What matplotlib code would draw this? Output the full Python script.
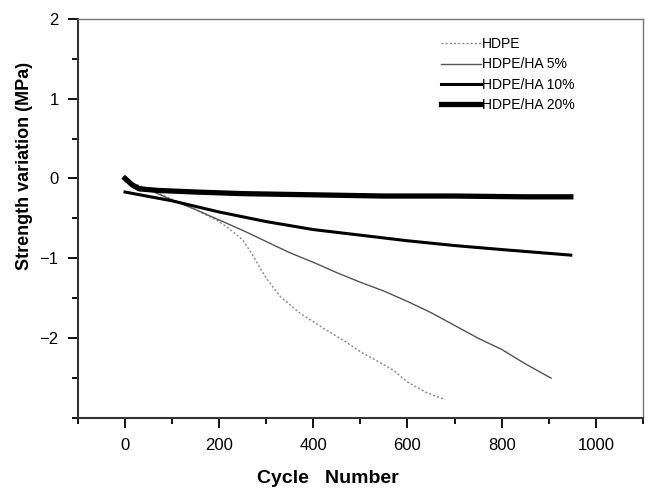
import matplotlib.pyplot as plt
from matplotlib.ticker import MultipleLocator

plt.rcParams['font.family'] = ['Liberation Sans', 'DejaVu Sans']

# cycle number vs strength variation (MPa)
hdpe_x = [0, 50, 100, 150, 200, 230, 250, 270, 300, 330, 370, 420, 470, 500, 540, 570, 600, 640, 680]
hdpe_y = [-0.02, -0.13, -0.26, -0.39, -0.54, -0.67, -0.77, -0.95, -1.25, -1.48, -1.68, -1.87, -2.05, -2.17, -2.3, -2.4, -2.55, -2.68, -2.77]

ha5_x = [0, 50, 100, 150, 200, 250, 300, 350, 400, 450, 500, 550, 600, 650, 700, 750, 800, 850, 905]
ha5_y = [-0.04, -0.14, -0.27, -0.39, -0.52, -0.65, -0.79, -0.93, -1.05, -1.18, -1.3, -1.41, -1.54, -1.68, -1.84, -2.0, -2.14, -2.32, -2.5]

ha10_x = [0, 100, 200, 300, 400, 500, 600, 700, 800, 947]
ha10_y = [-0.17, -0.28, -0.42, -0.54, -0.64, -0.71, -0.78, -0.84, -0.89, -0.96]

ha20_x = [0, 15, 30, 70, 150, 250, 350, 450, 550, 700, 850, 947]
ha20_y = [0.0, -0.08, -0.13, -0.15, -0.17, -0.19, -0.2, -0.21, -0.22, -0.22, -0.23, -0.23]

fig = plt.figure(figsize=(6.5, 4.93), dpi=100)
ax = fig.add_axes([0.12, 0.152, 0.869, 0.81])

ax.plot(hdpe_x, hdpe_y, color='#8a8a8a', lw=1.0, ls=(0, (1.5, 1.5)), label='HDPE')
ax.plot(ha5_x, ha5_y, color='#555555', lw=1.0, label='HDPE/HA 5%')
ax.plot(ha10_x, ha10_y, color='black', lw=2.2, label='HDPE/HA 10%')
ax.plot(ha20_x, ha20_y, color='black', lw=3.8, label='HDPE/HA 20%')

ax.set_xlim(-100, 1100)
ax.set_ylim(-3, 2)
ax.xaxis.set_major_locator(MultipleLocator(200))
ax.xaxis.set_minor_locator(MultipleLocator(100))
ax.yaxis.set_major_locator(MultipleLocator(1))
ax.yaxis.set_minor_locator(MultipleLocator(0.5))
ax.tick_params(which='major', direction='out', length=7, width=1.3, labelsize=12, pad=7)
ax.tick_params(which='minor', direction='out', length=4, width=1.3)
ax.set_xticks([0, 200, 400, 600, 800, 1000])
ax.set_xticklabels(['0', '200', '400', '600', '800', '1000'])
ax.set_yticks([-2, -1, 0, 1, 2])
ax.set_yticklabels(['\u22122', '\u22121', '0', '1', '2'])

for s in ['left', 'bottom']:
    ax.spines[s].set_linewidth(1.5)
    ax.spines[s].set_color('#333333')
for s in ['top', 'right']:
    ax.spines[s].set_linewidth(1.0)
    ax.spines[s].set_color('#777777')

fig.text(0.505, 0.012, 'Cycle   Number', ha='center', va='bottom', fontsize=14, fontweight='bold')
fig.text(0.038, 1 - 166 / 493, 'Strength variation (MPa)', rotation=90, ha='center', va='center',
         fontsize=13, fontweight='bold')

leg = ax.legend(loc='upper left', bbox_to_anchor=(0.62, 0.985), frameon=False, fontsize=10,
                handlelength=2.9, handletextpad=0.1, labelspacing=0.45)

fig.savefig('out.png', dpi=100)
